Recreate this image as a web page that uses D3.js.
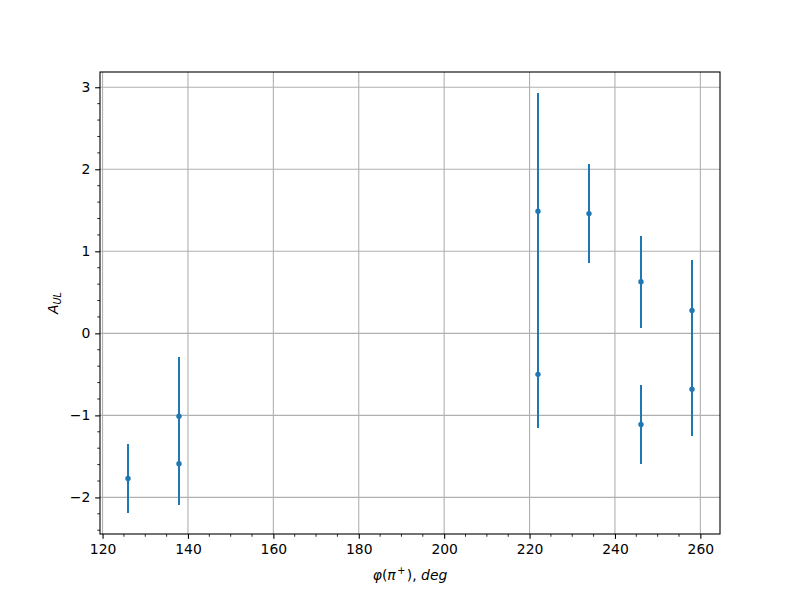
<!DOCTYPE html>
<html><head><meta charset="utf-8">
<script src="https://cdn.jsdelivr.net/npm/d3@7"></script>
<style>body{margin:0;background:#fff;} svg{display:block;font-family:"DejaVu Sans",sans-serif;}</style>
</head><body>
<svg id="chart" width="800" height="600"></svg>
<script>
// Data (phi in deg, A_UL, symmetric error)
const xValues = [126, 138, 138, 222, 222, 234, 246, 246, 258, 258];
const yValues = [-1.77, -1.01, -1.59, 1.49, -0.50, 1.46, 0.63, -1.11, 0.28, -0.68];
const yErrors = [0.42, 0.72, 0.50, 1.44, 0.65, 0.60, 0.56, 0.48, 0.61, 0.57];
const xTicks = [120, 140, 160, 180, 200, 220, 240, 260];
const yTicks = [-2, -1, 0, 1, 2, 3];

const svg = d3.select("#chart");
const L = 100, R = 720, T = 72, B = 534;
const color = "#1f77b4";

const xlo = d3.min(xValues), xhi = d3.max(xValues);
const xm = (xhi - xlo) * 0.05;
const x = d3.scaleLinear().domain([xlo - xm, xhi + xm]).range([L, R]);
const ylo = d3.min(yValues.map((v, i) => v - yErrors[i]));
const yhi = d3.max(yValues.map((v, i) => v + yErrors[i]));
const ym = (yhi - ylo) * 0.05;
const y = d3.scaleLinear().domain([ylo - ym, yhi + ym]).range([B, T]);

// grid
const g = svg.append("g");
g.selectAll(".gx").data(xTicks).join("line")
  .attr("x1", d => x(d)).attr("x2", d => x(d)).attr("y1", T).attr("y2", B)
  .attr("stroke", "#b0b0b0").attr("stroke-width", 1.1);
g.selectAll(".gy").data(yTicks).join("line")
  .attr("y1", d => y(d)).attr("y2", d => y(d)).attr("x1", L).attr("x2", R)
  .attr("stroke", "#b0b0b0").attr("stroke-width", 1.1);

// error bars
const eb = svg.append("g");
const idx = xValues.map((v, i) => i);
eb.selectAll("line").data(idx).join("line")
  .attr("x1", i => Math.round(x(xValues[i]))).attr("x2", i => Math.round(x(xValues[i])))
  .attr("y1", i => y(yValues[i] - yErrors[i])).attr("y2", i => y(yValues[i] + yErrors[i]))
  .attr("stroke", color).attr("stroke-width", 2.08).attr("shape-rendering", "crispEdges");
eb.selectAll("circle").data(idx).join("circle")
  .attr("cx", i => Math.round(x(xValues[i]))).attr("cy", i => y(yValues[i]))
  .attr("r", 2.7).attr("fill", color);

// axes
const fmt = d => d < 0 ? "\u2212" + Math.abs(d) : String(d);
const xAxis = d3.axisBottom(x).tickValues(xTicks).tickFormat(fmt).tickSize(4.86).tickPadding(4.86);
const yAxis = d3.axisLeft(y).tickValues(yTicks).tickFormat(fmt).tickSize(4.86).tickPadding(4.86);
const xMinor = d3.range(120, 265, 5).filter(v => v % 20 !== 0 && v >= x.domain()[0] && v <= x.domain()[1]);
const yMinor = d3.range(-24, 32, 2).map(v => v / 10).filter(v => Math.abs(v - Math.round(v)) > 1e-6 && v >= y.domain()[0] && v <= y.domain()[1]);

const gx = svg.append("g").attr("transform", `translate(0,${B})`).call(xAxis);
const gy = svg.append("g").attr("transform", `translate(${L},0)`).call(yAxis);
[gx, gy].forEach(a => {
  a.select(".domain").remove();
  a.selectAll(".tick line").attr("stroke", "#000").attr("stroke-width", 1.1);
  a.selectAll(".tick text").attr("fill", "#000").style("font-size", "13.9px").style("font-family", "DejaVu Sans");
});
svg.append("g").selectAll("line").data(xMinor).join("line")
  .attr("x1", d => x(d)).attr("x2", d => x(d)).attr("y1", B).attr("y2", B + 2.78)
  .attr("stroke", "#000").attr("stroke-width", 0.83);
svg.append("g").selectAll("line").data(yMinor).join("line")
  .attr("y1", d => y(d)).attr("y2", d => y(d)).attr("x1", L).attr("x2", L - 2.78)
  .attr("stroke", "#000").attr("stroke-width", 0.83);

// frame
svg.append("rect").attr("x", L).attr("y", T).attr("width", R - L).attr("height", B - T)
  .attr("fill", "none").attr("stroke", "#000").attr("stroke-width", 1.1);

// labels
const xl = svg.append("text").attr("x", (L + R) / 2).attr("y", 580).attr("text-anchor", "middle")
  .style("font-size", "13.9px").style("font-family", "DejaVu Sans");
xl.append("tspan").style("font-style", "italic").text("\u03C6");
xl.append("tspan").text("(");
xl.append("tspan").style("font-style", "italic").text("\u03C0");
xl.append("tspan").attr("dx", 1.5).attr("dy", -6).style("font-size", "9.7px").text("+");
xl.append("tspan").attr("dx", 1.5).attr("dy", 6).text("), ");
xl.append("tspan").style("font-style", "italic").text("deg");

const yl = svg.append("text").attr("transform", `translate(58,${(T + B) / 2}) rotate(-90)`)
  .attr("text-anchor", "middle").style("font-size", "13.9px").style("font-family", "DejaVu Sans");
yl.append("tspan").style("font-style", "italic").text("A");
yl.append("tspan").attr("dy", 3).style("font-size", "9.7px").style("font-style", "italic").text("UL");
</script>
</body></html>
